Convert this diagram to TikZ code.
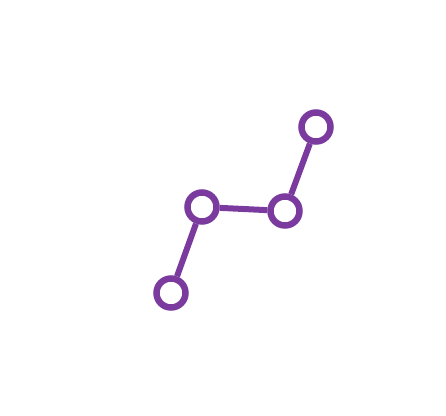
\documentclass[tikz,border=0pt]{standalone}
\definecolor{vio}{RGB}{122,58,158}
\begin{document}
\begin{tikzpicture}[x=1pt,y=-1pt,
  ring/.style={circle,draw=vio,line width=6.5pt,minimum size=29pt,inner sep=0pt,fill=white},
  link/.style={draw=vio,line width=6pt}]
\useasboundingbox (0,0) rectangle (446,415);
\node[ring] (a) at (171,293) {};
\node[ring] (b) at (202,207) {};
\node[ring] (c) at (285,211) {};
\node[ring] (d) at (316,127) {};
\draw[link] (a) -- (b);
\draw[link] (b) -- (c);
\draw[link] (c) -- (d);
\end{tikzpicture}
\end{document}
